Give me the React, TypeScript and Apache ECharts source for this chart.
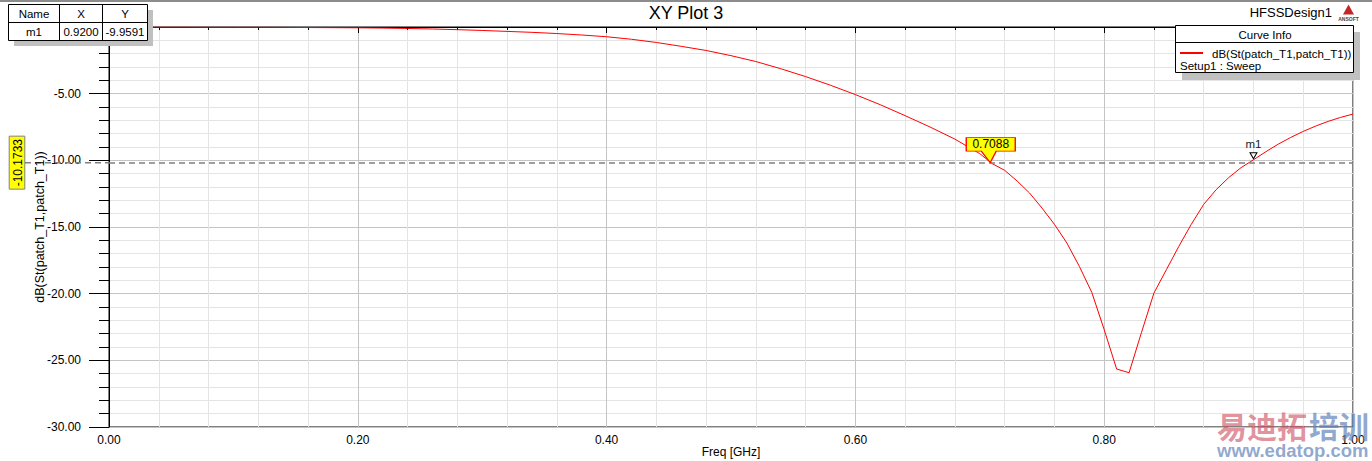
import React, { useEffect, useRef } from "react";
import * as echarts from "echarts";

// ---------- data ----------
const freqGHz = [
  0.02, 0.04, 0.06, 0.08, 0.1, 0.12, 0.14, 0.16, 0.18, 0.2, 0.22, 0.24, 0.26, 0.28, 0.3, 0.32, 0.34,
  0.36, 0.38, 0.4, 0.42, 0.44, 0.46, 0.48, 0.5, 0.52, 0.54, 0.56, 0.58, 0.6, 0.62, 0.64, 0.66, 0.68,
  0.7, 0.71, 0.72, 0.73, 0.74, 0.75, 0.76, 0.77, 0.78, 0.79, 0.8, 0.81, 0.82, 0.83, 0.84, 0.85, 0.86,
  0.87, 0.88, 0.89, 0.9, 0.91, 0.92, 0.93, 0.94, 0.95, 0.96, 0.97, 0.98, 0.99, 1.0,
];
const s11dB = [
  -0.01, -0.01, -0.01, -0.02, -0.02, -0.02, -0.03, -0.04, -0.05, -0.06, -0.08, -0.11, -0.15, -0.2,
  -0.26, -0.33, -0.4, -0.49, -0.6, -0.73, -0.92, -1.16, -1.45, -1.76, -2.15, -2.59, -3.13, -3.72,
  -4.37, -5.07, -5.83, -6.65, -7.5, -8.41, -9.5, -10.25, -10.75, -11.55, -12.45, -13.58, -14.8, -16.2,
  -17.95, -19.9, -22.7, -25.65, -25.93, -22.9, -19.95, -18.2, -16.45, -14.8, -13.3, -12.2, -11.3,
  -10.55, -9.96, -9.35, -8.78, -8.28, -7.83, -7.43, -7.08, -6.78, -6.53,
];
const seriesName = "dB(St(patch_T1,patch_T1))";
const xAxisName = "Freq [GHz]";
const setupName = "Setup1 : Sweep";
const m1Name = "m1";
const m1X = 0.92;
const m1Y = -9.9591;
const yMarkerValue = -10.1733;
const xMarkerValue = 0.7088;
const tableHeaders = ["Name", "X", "Y"];
const tableRow = ["m1", "0.9200", "-9.9591"];

const FONT = "Arial, 'Liberation Sans', sans-serif";
const CJK = "'Noto Sans CJK SC', sans-serif";

export default function App() {
  const ref = useRef<HTMLDivElement>(null);
  useEffect(() => {
    if (!ref.current) return;
    const chart = echarts.init(ref.current, undefined, { renderer: "svg" });
    const data = freqGHz.map((f, i) => [f, s11dB[i]]);
    chart.setOption({
      animation: false,
      backgroundColor: "#ffffff",
      grid: {
        left: 109,
        right: 19,
        top: 27,
        bottom: 34,
        containLabel: false,
        outerBoundsMode: "none",
        show: true,
        borderColor: "#000",
        borderWidth: 1,
      },
      xAxis: {
        type: "value",
        min: 0,
        max: 1,
        interval: 0.2,
        axisLine: { lineStyle: { color: "#000", width: 1 } },
        axisTick: { show: true, length: 6, lineStyle: { color: "#000" } },
        minorTick: { show: true, splitNumber: 5, length: 3, lineStyle: { color: "#000" } },
        splitLine: { show: true, lineStyle: { color: "#c4c4c4", width: 1 } },
        minorSplitLine: { show: true, lineStyle: { color: "#e4e4e4", width: 1 } },
        axisLabel: {
          margin: 7,
          fontFamily: FONT,
          fontSize: 12,
          color: "#000",
          formatter: (v: number) => v.toFixed(2),
        },
      },
      yAxis: {
        type: "value",
        min: -30,
        max: 0,
        interval: 5,
        axisLine: { show: true, lineStyle: { color: "#000", width: 1 } },
        axisTick: { show: true, length: 20, lineStyle: { color: "#000" } },
        minorTick: { show: true, splitNumber: 5, length: 10, lineStyle: { color: "#000" } },
        splitLine: { show: true, lineStyle: { color: "#c4c4c4", width: 1 } },
        minorSplitLine: { show: true, lineStyle: { color: "#e4e4e4", width: 1 } },
        axisLabel: {
          margin: 28,
          fontFamily: FONT,
          fontSize: 12,
          color: "#000",
          formatter: (v: number) => (v === 0 ? "" : v.toFixed(2)),
        },
      },
      series: [
        {
          type: "line",
          name: seriesName,
          data,
          showSymbol: false,
          symbol: "none",
          lineStyle: { color: "#ff0000", width: 1 },
          z: 3,
          markLine: {
            silent: true,
            symbol: "none",
            label: { show: false },
            lineStyle: { color: "#808080", type: [6, 4], width: 1.5 },
            data: [{ yAxis: yMarkerValue }],
          },
          markPoint: {
            silent: true,
            data: [
              {
                coord: [xMarkerValue, yMarkerValue],
                symbol: "path://M0,0L49,0L49,13.5L30,13.5L24,25L15,13.5L0,13.5Z",
                symbolSize: [49, 25],
                symbolOffset: [0, -12.5],
                itemStyle: { color: "#ffff00", borderColor: "#ff0000", borderWidth: 1 },
                label: {
                  show: true,
                  formatter: xMarkerValue.toFixed(4),
                  position: "inside",
                  offset: [0, -6],
                  color: "#000",
                  fontFamily: FONT,
                  fontSize: 12,
                },
              },
              {
                coord: [m1X, m1Y],
                symbol: "path://M0,0L7,0L3.5,6Z",
                symbolSize: [7, 6],
                symbolOffset: [0, -4],
                itemStyle: { color: "#ffffff", borderColor: "#000", borderWidth: 1 },
                label: {
                  show: true,
                  formatter: m1Name,
                  position: "top",
                  distance: 2,
                  color: "#222",
                  fontFamily: FONT,
                  fontSize: 11.5,
                },
              },
            ],
          },
        },
      ],
    });

    const py = chart.convertToPixel({ yAxisIndex: 0 }, yMarkerValue) as number;
    const txt = (x: number, y: number, text: string, extra: any = {}) => ({
      type: "text",
      x,
      y,
      z: 20,
      style: {
        text,
        fontFamily: FONT,
        fontSize: 11.5,
        fill: "#000",
        align: "center",
        verticalAlign: "middle",
        ...extra,
      },
    });
    const graphic: any[] = [
      // top frame strip
      { type: "rect", shape: { x: 0, y: 0, width: 1372, height: 2 }, style: { fill: "#8c8c8c" }, z: 20 },
      // title
      txt(686, 13, "XY Plot 3", { fontSize: 18 }),
      txt(1332, 12.5, "HFSSDesign1", { fontSize: 13, align: "right" }),
      // x axis title
      txt(731, 451.5, xAxisName, { fontSize: 12 }),
      // ansoft logo
      {
        type: "polygon",
        z: 20,
        shape: { points: [[1348.5, 4.5], [1354, 14.5], [1343, 14.5]] },
        style: { fill: "#c02828" },
      },
      txt(1348.5, 18.5, "ANSOFT", { fontSize: 5, fontWeight: "bold", fill: "#444" }),
      // y axis title
      {
        type: "text",
        x: 40,
        y: 227,
        rotation: Math.PI / 2,
        z: 20,
        style: {
          text: seriesName,
          fontFamily: FONT,
          fontSize: 12.5,
          fill: "#000",
          align: "center",
          verticalAlign: "middle",
        },
      },
      // dashed y-marker line extension left of axis
      {
        type: "line",
        z: 19,
        shape: { x1: 25, y1: py, x2: 109, y2: py },
        style: { stroke: "#808080", lineWidth: 1.5, lineDash: [6, 4] },
      },
      // y marker yellow label
      {
        type: "group",
        x: 17,
        y: py,
        rotation: Math.PI / 2,
        z: 20,
        children: [
          {
            type: "rect",
            shape: { x: -26.5, y: -7.8, width: 53, height: 15.6 },
            style: { fill: "#ffff00", stroke: "#808080", lineWidth: 1 },
          },
          {
            type: "text",
            x: 0,
            y: 0.5,
            style: {
              text: yMarkerValue.toFixed(4),
              fontFamily: FONT,
              fontSize: 12,
              fill: "#000",
              align: "center",
              verticalAlign: "middle",
            },
          },
        ],
      },
      // marker table (top-left)
      { type: "rect", z: 20, shape: { x: 14, y: 10, width: 139, height: 36 }, style: { fill: "#c0c0c0" } },
      {
        type: "rect",
        z: 21,
        shape: { x: 8.5, y: 4.5, width: 139, height: 36 },
        style: { fill: "#ffffff", stroke: "#000", lineWidth: 1 },
      },
      { type: "line", z: 22, shape: { x1: 8.5, y1: 22.5, x2: 147.5, y2: 22.5 }, style: { stroke: "#000", lineWidth: 1 } },
      { type: "line", z: 22, shape: { x1: 59.5, y1: 4.5, x2: 59.5, y2: 40.5 }, style: { stroke: "#000", lineWidth: 1 } },
      { type: "line", z: 22, shape: { x1: 102.5, y1: 4.5, x2: 102.5, y2: 40.5 }, style: { stroke: "#000", lineWidth: 1 } },
      { ...txt(34, 14, tableHeaders[0]), z: 23 },
      { ...txt(81, 14, tableHeaders[1]), z: 23 },
      { ...txt(125, 14, tableHeaders[2]), z: 23 },
      { ...txt(34, 32, tableRow[0]), z: 23 },
      { ...txt(81, 32, tableRow[1]), z: 23 },
      { ...txt(125, 32, tableRow[2]), z: 23 },
      // curve info legend
      { type: "rect", z: 20, shape: { x: 1182, y: 32, width: 178, height: 48 }, style: { fill: "#c0c0c0" } },
      {
        type: "rect",
        z: 21,
        shape: { x: 1175.5, y: 25.5, width: 178, height: 47 },
        style: { fill: "#ffffff", stroke: "#000", lineWidth: 1 },
      },
      { type: "line", z: 22, shape: { x1: 1175.5, y1: 42.5, x2: 1353.5, y2: 42.5 }, style: { stroke: "#000", lineWidth: 1 } },
      { ...txt(1265, 34.5, "Curve Info"), z: 23 },
      { type: "line", z: 22, shape: { x1: 1180, y1: 53, x2: 1203, y2: 53 }, style: { stroke: "#ff0000", lineWidth: 2 } },
      { ...txt(1212, 53.5, seriesName, { align: "left" }), z: 23 },
      { ...txt(1180, 65.5, setupName, { align: "left" }), z: 23 },
      // watermark
      {
        type: "text",
        z: 30,
        x: 1217,
        y: 425,
        style: {
          text: "易迪拓",
          fontFamily: CJK,
          fontWeight: "bold",
          fontSize: 30,
          fill: "rgba(205,75,90,0.62)",
          align: "left",
          verticalAlign: "middle",
        },
      },
      {
        type: "text",
        z: 30,
        x: 1309,
        y: 425,
        style: {
          text: "培训",
          fontFamily: CJK,
          fontWeight: "bold",
          fontSize: 30,
          fill: "rgba(95,130,185,0.7)",
          align: "left",
          verticalAlign: "middle",
        },
      },
      {
        type: "text",
        z: 30,
        x: 1217,
        y: 450.5,
        style: {
          text: "www.edatop.com",
          fontFamily: FONT,
          fontWeight: "bold",
          fontSize: 18.5,
          fill: "rgba(95,130,185,0.7)",
          align: "left",
          verticalAlign: "middle",
        },
      },
    ];
    chart.setOption({ graphic });
    return () => chart.dispose();
  }, []);
  return (
    <div
      ref={ref}
      style={{ position: "fixed", left: 0, top: 0, width: 1372, height: 461, background: "#fff" }}
    />
  );
}
